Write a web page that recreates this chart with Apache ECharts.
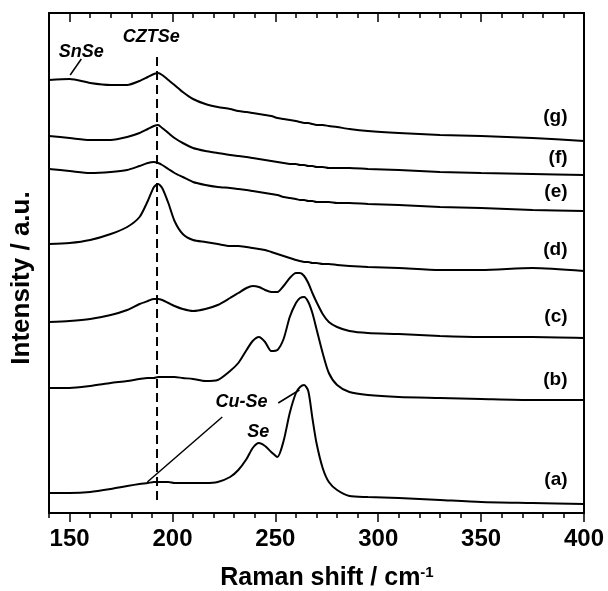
<!DOCTYPE html>
<html>
<head>
<meta charset="utf-8">
<script src="https://cdn.jsdelivr.net/npm/echarts@6/dist/echarts.min.js"></script>
<style>
  html, body { margin: 0; padding: 0; background: #fff; }
  #main { width: 608px; height: 591px; }
</style>
</head>
<body>
<div id="main"></div>
<script>
// Raman shift (cm-1) shared by all spectra
const shift = [140,150,160,170,178,184,188,191,193,195,198,201,205,210,216,222,228,232,236,239,242,245,248,251,254,257,260,262,264,266,268,270,273,276,280,286,295,310,330,350,375,400]

// intensities, already offset (arbitrary units)
const specA = [20,20,21,24,27,29,30,31,31,31,31,30,30,30,30,31,36,43,54,65,70,67,61,56,72,100,120,126,128,122,95,70,45,31,23,17,16,15,13,11,10,9]
const specB = [125,125,127,130,132,134,135,135,136,136,136,136,135,134,132,133,142,150,163,172,176,171,162,163,174,196,210,215,216,211,200,184,160,140,128,121,118,116,115,114,113,113]
const specC = [191,192,194,198,203,209,212,214,214,213,210,207,204,202,204,208,215,220,225,227,226,223,221,221,227,235,240,240,237,230,220,211,199,191,186,182,180,179,177,176,176,175]
const specD = [269,270,273,279,286,296,312,326,329,325,310,292,279,273,271,269,267,267,266,265,264,263,261,259,257,255,253,252,251,251,250,250,249,249,248,247,246,245,243,243,245,242]
const specE = [344,342,340,341,343,347,350,351,350,348,344,340,336,331,328,326,325,324,323,322,321,320,319,318,316,315,314,313,313,312,312,311,311,311,310,310,309,308,306,305,303,302]
const specF = [377,375,373,373,376,380,384,387,388,385,380,375,370,365,362,360,358,357,356,355,354,353,352,351,350,349,349,348,348,347,347,346,346,345,345,345,344,343,341,340,339,338]
const specG = [433,434,430,428,428,432,436,439,440,438,433,428,421,414,409,406,404,402,401,400,399,398,397,395,394,393,392,391,390,390,389,388,388,387,386,384,382,380,378,377,375,372]

const tagNames = ['(a)','(b)','(c)','(d)','(e)','(f)','(g)']
const tagX = 392
const tagY = [33,133,196,263,321,355,396]

const peakNames = ['CZTSe','SnSe','Cu-Se','Se']
const peakPos = [[189.7,476],[155.7,461],[233.5,111],[241.7,81]]

const czts = [[192.5,13],[192.5,461]]
const leaderSnSe = [[155.7,454],[150.3,438]]
const leaderCuSe1 = [[224.2,96],[187.8,31]]
const leaderCuSe2 = [[251.4,110],[261.7,123]]

const majors = [150,200,250,300,350,400]
const minors = [140,160,170,180,190,210,220,230,240,260,270,280,290,310,320,330,340,360,370,380,390]

const font = "'Liberation Sans', Arial, sans-serif"
var myChart = echarts.init(document.getElementById('main'))

const specs = [specA, specB, specC, specD, specE, specF, specG]
const spectra = specs.map(s => ({
  type: 'line',
  data: shift.map((x, i) => [x, s[i]]),
  smooth: 0.25,
  symbol: 'none',
  lineStyle: { color: '#000', width: 2 },
  silent: true
}))

const straight = (d, dashed) => ({
  type: 'line',
  data: d,
  symbol: 'none',
  lineStyle: { color: '#000', width: dashed ? 2 : 1.5, type: dashed ? [9, 5] : 'solid' },
  silent: true
})

const axisBase = {
  type: 'value', min: 140, max: 400, gridIndex: 0,
  splitLine: { show: false }
}

// text labels drawn from a scatter series with invisible symbols
const textSeries = (data, pos, style) => ({
  type: 'scatter', symbolSize: 0, silent: true,
  itemStyle: { color: '#000', opacity: 1 },
  data: data,
  label: Object.assign({ show: true, position: pos, distance: 0, formatter: '{b}',
    color: '#000', opacity: 1, textBorderWidth: 0, fontWeight: 'bold', fontFamily: font }, style)
})

var option = {
  animation: false,
  backgroundColor: '#fff',
  grid: { left: 49, right: 24, top: 13, bottom: 78 },
  xAxis: [
    Object.assign({}, axisBase, {
      position: 'bottom',
      axisLine: { lineStyle: { color: '#000', width: 2 } },
      axisTick: { customValues: majors, length: 9, lineStyle: { color: '#000', width: 1.5 } },
      axisLabel: { customValues: majors, color: '#000', fontSize: 24, fontWeight: 'bold', fontFamily: font, margin: 14 }
    }),
    Object.assign({}, axisBase, {
      position: 'bottom',
      axisLine: { show: false },
      axisTick: { customValues: minors, length: 5, lineStyle: { color: '#000', width: 1.5 } },
      axisLabel: { show: false }
    }),
    Object.assign({}, axisBase, {
      position: 'top',
      axisLine: { lineStyle: { color: '#000', width: 2 } },
      axisTick: { customValues: majors, inside: true, length: 9, lineStyle: { color: '#000', width: 1.5 } },
      axisLabel: { show: false }
    }),
    Object.assign({}, axisBase, {
      position: 'top',
      axisLine: { show: false },
      axisTick: { customValues: minors, inside: true, length: 5, lineStyle: { color: '#000', width: 1.5 } },
      axisLabel: { show: false }
    })
  ],
  yAxis: [
    { type: 'value', min: 0, max: 500, position: 'left',
      axisLine: { show: true, lineStyle: { color: '#000', width: 2 } },
      axisTick: { show: false }, axisLabel: { show: false }, splitLine: { show: false } },
    { type: 'value', min: 0, max: 500, position: 'right',
      axisLine: { show: true, lineStyle: { color: '#000', width: 2 } },
      axisTick: { show: false }, axisLabel: { show: false }, splitLine: { show: false } }
  ],
  graphic: [
    { type: 'text', x: 327, y: 578,
      style: { text: 'Raman shift / cm{s|-1}', fill: '#000', font: 'bold 25px ' + font,
        textAlign: 'center', textVerticalAlign: 'middle',
        rich: { s: { fontSize: 15, fontWeight: 'bold', fontFamily: font, verticalAlign: 'top', fill: '#000' } } } },
    { type: 'text', x: 22, y: 278, rotation: Math.PI / 2,
      style: { text: 'Intensity / a.u.', fill: '#000', font: 'bold 26px ' + font,
        textAlign: 'center', textVerticalAlign: 'middle' } }
  ],
  series: spectra.concat([
    straight(czts, true),
    straight(leaderSnSe),
    straight(leaderCuSe1),
    straight(leaderCuSe2),
    textSeries(tagNames.map((n, i) => ({ name: n, value: [tagX, tagY[i]] })), 'left', { fontSize: 19 }),
    textSeries(peakNames.map((n, i) => ({ name: n, value: peakPos[i] })), 'inside', { fontSize: 18, fontStyle: 'italic' })
  ])
}

myChart.setOption(option)
</script>
</body>
</html>
